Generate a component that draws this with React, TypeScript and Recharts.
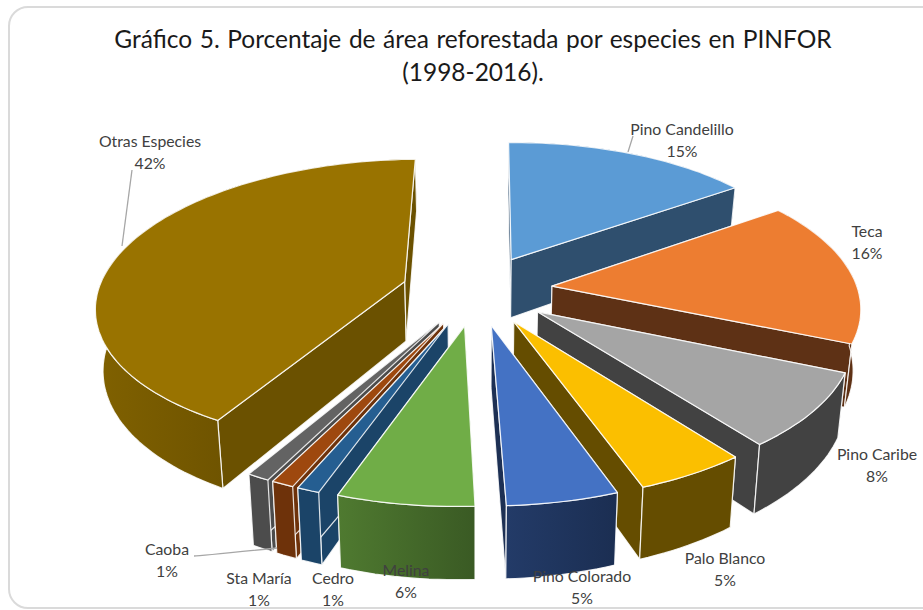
import React from 'react';
import { PieChart, Pie } from 'recharts';

const categories = ['Pino Candelillo', 'Teca', 'Pino Caribe', 'Palo Blanco', 'Pino Colorado', 'Melina', 'Cedro', 'Sta María', 'Caoba', 'Otras Especies'];
const shares = [15.4, 16.2, 8.1, 4.9, 4.9, 6.0, 1, 1, 1, 41.5];
const percentLabels = ['15%', '16%', '8%', '5%', '5%', '6%', '1%', '1%', '1%', '42%'];
const topColors = ['#5B9BD5', '#ED7D31', '#A5A5A5', '#FBBF00', '#4472C4', '#70AD47', '#255E91', '#9E480E', '#636363', '#997300'];
const sideColors = ['#2F4F6E', '#5E3115', '#424242', '#654D00', '#1D3054', '#3F6027', '#1B4468', '#6E320A', '#4C4C4C', '#6B5100'];
const rimFrom = ['#2F4F6E', '#5E3115', '#424242', '#654D00', '#233B68', '#4F7A30', '#1B4468', '#6E320A', '#4C4C4C', '#806100'];
const rimTo = ['#2F4F6E', '#5E3115', '#424242', '#654D00', '#1B2E52', '#3A5A24', '#1B4468', '#6E320A', '#4C4C4C', '#6F5400'];

const rows = categories.map((name, i) => ({ name, value: shares[i], order: i }));
// two half-pies so that the slices paint from the back of the view towards the front on each side
const rightSide = rows.slice(0, 5);
const leftSide = rows.slice(5).reverse();
const total = shares.reduce((a, b) => a + b, 0);
const rightSpan = (rightSide.reduce((a, r) => a + r.value, 0) / total) * 360;
const leftSpan = 360 - rightSpan;

// label block centres and optional leader lines (layout only)
const labelLayout: { x: number; y: number; leader?: string }[] = [
  { x: 682, y: 130, leader: 'M628 152 L633 136' },
  { x: 867, y: 232 },
  { x: 877, y: 455 },
  { x: 725, y: 559 },
  { x: 582, y: 577 },
  { x: 406, y: 571 },
  { x: 333, y: 579 },
  { x: 259, y: 579 },
  { x: 167, y: 550, leader: 'M194 556 Q200 556 277 548' },
  { x: 150, y: 142, leader: 'M122 246 L132 170' },
];

// projection of the flat pie into a tilted, exploded 3D view
const START = 91;
const RATIO = 0.465;
const PERSP = 0.146;
const EXPLODE = 0.247;
const DEPTH = 60;
const SKEW = -6;
const SHRINK = 0.98;

function Slice3D(props: any) {
  const { cx, cy, outerRadius: R, startAngle, endAngle } = props;
  const index = (props.payload?.order ?? props.order) as number;
  let a0 = 90 - Math.max(startAngle, endAngle);
  let a1 = 90 - Math.min(startAngle, endAngle);
  // keep the top edge as zero-based clockwise degrees
  if (a0 < -2) {
    a0 += 360;
    a1 += 360;
  }
  const mid = ((a0 + a1) / 2) * Math.PI / 180;
  const ex = EXPLODE * Math.sin(mid);
  const ey = -EXPLODE * Math.cos(mid);
  const project = (ux: number, uy: number) => {
    const X = ex + ux;
    const Y = ey + uy;
    const s = 1 / (1 - PERSP * Y);
    const x = cx + R * X * s + SKEW * Y;
    const y = cy + R * RATIO * Y * s;
    return { x, y, bx: cx + (x - cx) * SHRINK, by: y + DEPTH * s };
  };
  const onArc = (deg: number) => {
    const t = deg * Math.PI / 180;
    return project(Math.sin(t), -Math.cos(t));
  };
  const apex = project(0, 0);
  const arc = (from: number, to: number) => {
    const n = Math.max(2, Math.ceil(Math.abs(to - from) / 1.5));
    return Array.from({ length: n + 1 }, (_, i) => onArc(from + ((to - from) * i) / n));
  };
  const top = (p: any) => `${p.x.toFixed(1)} ${p.y.toFixed(1)}`;
  const bot = (p: any) => `${p.bx.toFixed(1)} ${p.by.toFixed(1)}`;
  const rim = (from: number, to: number) => {
    const pts = arc(from, to);
    return 'M' + pts.map(top).join(' L') + ' L' + pts.slice().reverse().map(bot).join(' L') + ' Z';
  };
  const radial = (deg: number) => {
    const p = onArc(deg);
    return `M${top(apex)} L${top(p)} L${bot(p)} L${bot(apex)} Z`;
  };
  const face = 'M' + top(apex) + ' L' + arc(a0, a1).map(top).join(' L') + ' Z';
  const gid = `rim-${index}`;
  const edge = { stroke: '#ffffff', strokeOpacity: 0.85, strokeWidth: 1.2, strokeLinejoin: 'round' as const };
  const farEnd = Math.min(a1, 90);
  const nearFrom = Math.max(a0, 90);
  const nearTo = Math.min(a1, 270);
  const hasFarRight = a0 < 90;
  const hasFarLeft = a1 > 270;
  return (
    <g>
      <defs>
        <linearGradient id={gid} x1="0" x2="1" y1="0" y2="0">
          <stop offset="0" stopColor={rimFrom[index]} />
          <stop offset="1" stopColor={rimTo[index]} />
        </linearGradient>
      </defs>
      {hasFarRight && <path d={rim(a0, farEnd)} fill={sideColors[index]} />}
      {hasFarLeft && <path d={rim(Math.max(a0, 270), a1)} fill={sideColors[index]} />}
      <path d={radial(a0)} fill={sideColors[index]} {...edge} />
      <path d={radial(a1)} fill={sideColors[index]} {...edge} />
      {nearFrom < nearTo && <path d={rim(nearFrom, nearTo)} fill={`url(#${gid})`} {...edge} />}
      <path d={face} fill={topColors[index]} {...edge} />
    </g>
  );
}

function SliceLabel(props: any) {
  const index = (props.payload?.order ?? props.order) as number;
  const place = labelLayout[index];
  return (
    <g>
      {place.leader && <path d={place.leader} fill="none" stroke="#a6a6a6" strokeWidth={1.3} />}
      <text textAnchor="middle" fontFamily="Lato, Carlito, sans-serif" fontSize={15.8} fill="#404040">
        <tspan x={place.x} y={place.y + 5}>{categories[index]}</tspan>
        <tspan x={place.x} y={place.y + 27}>{percentLabels[index]}</tspan>
      </text>
    </g>
  );
}

export default function App() {
  const pieProps = {
    dataKey: 'value',
    nameKey: 'name',
    cx: 477,
    cy: 290,
    innerRadius: 0,
    outerRadius: 306,
    stroke: 'none',
    isAnimationActive: false,
    shape: Slice3D,
    label: SliceLabel,
    labelLine: false,
  };
  return (
    <div style={{ position: 'absolute', left: 0, top: 0, width: 923, height: 610, overflow: 'hidden', background: '#fff' }}>
      <div style={{ position: 'absolute', left: 8, top: 6, width: 960, height: 599, border: '2px solid #DADADA', borderRadius: 20, boxSizing: 'content-box' }} />
      <div style={{ position: 'absolute', left: 0, top: 22, width: 946, textAlign: 'center', fontFamily: 'Lato, sans-serif', fontSize: 24.5, lineHeight: '33px', color: '#1a1a1a', wordSpacing: 1.3 }}>
        Gráfico 5. Porcentaje de área reforestada por especies en PINFOR
        <br />
        (1998-2016).
      </div>
      <div style={{ position: 'absolute', left: 0, top: 0 }}>
        <PieChart width={923} height={610} margin={{ top: 0, right: 0, bottom: 0, left: 0 }}>
          <Pie {...pieProps} data={leftSide} startAngle={START} endAngle={START + leftSpan} />
          <Pie {...pieProps} data={rightSide} startAngle={START} endAngle={START - rightSpan} />
        </PieChart>
      </div>
    </div>
  );
}
